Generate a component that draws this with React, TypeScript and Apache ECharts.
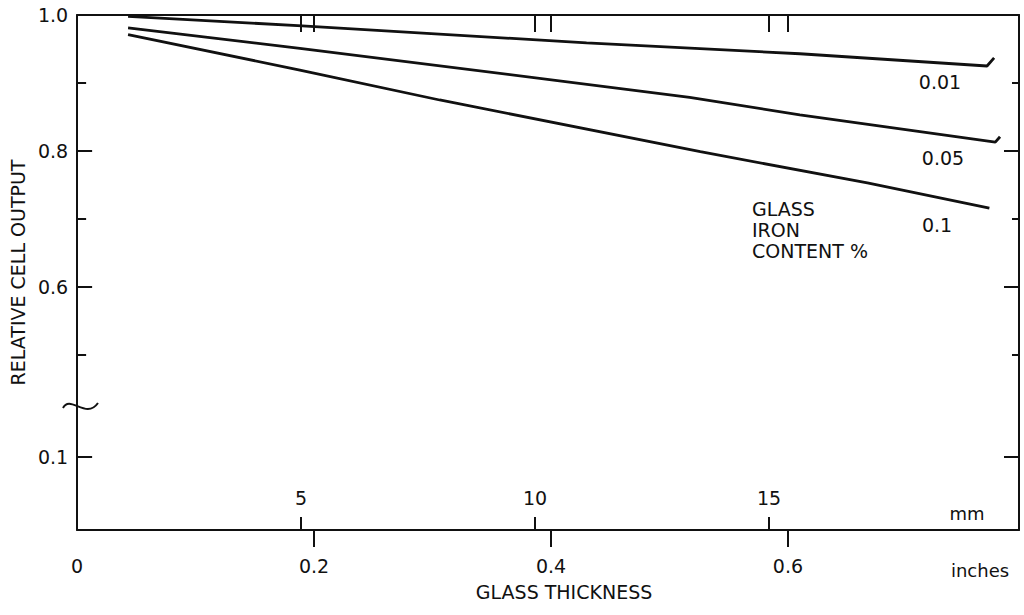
import React, { useEffect, useRef } from "react";
import * as echarts from "echarts";

// ---- data (glass thickness in inches, relative cell output) ----
const fe001: [number, number][] = [
  [0.043, 0.998], [0.19, 0.984], [0.43, 0.959], [0.61, 0.943], [0.768, 0.925], [0.774, 0.937],
];
const fe005: [number, number][] = [
  [0.043, 0.981], [0.188, 0.951], [0.517, 0.879], [0.61, 0.853], [0.775, 0.813], [0.779, 0.821],
];
const fe01: [number, number][] = [
  [0.043, 0.971], [0.188, 0.919], [0.306, 0.875], [0.526, 0.799], [0.667, 0.753], [0.77, 0.716],
];
const seriesNames = ["0.01", "0.05", "0.1"];
const legendTitleLines = ["GLASS", "IRON", "CONTENT %"];

// ---- axes ----
const inchTicks = [0.2, 0.4, 0.6];
const inchLabels = [0, 0.2, 0.4, 0.6];
const mmTicks = [5, 10, 15];
const yLongTicks = [0.8, 0.6, 0.35];
const yShortTicks = [0.9, 0.7, 0.5];
const yLabelValues = [1.0, 0.8, 0.6, 0.35];
const yLabelTexts = ["1.0", "0.8", "0.6", "0.1"]; // 0.1 drawn below the axis break
const X_MIN = 0;
const X_MAX = 0.795;
const MM_MIN = 0.214;
const MM_MAX = 20.34;
const Y_MIN = 0.2426;
const Y_MAX = 1.0;

const FONT = "DejaVu Sans";
const INK = "#111";
const FS = 19;

export default function App() {
  const ref = useRef<HTMLDivElement>(null);

  useEffect(() => {
    document.body.style.margin = "0";
    if (!ref.current) return;
    const chart = echarts.init(ref.current, undefined, { renderer: "svg" });

    const yLabelFmt = (v: number) => {
      const i = yLabelValues.findIndex((x) => Math.abs(x - v) < 1e-6);
      return i >= 0 ? yLabelTexts[i] : "";
    };

    const baseX = {
      type: "value" as const,
      splitLine: { show: false },
      axisLine: { show: false, lineStyle: { color: INK, width: 2 } },
    };
    const baseY = {
      type: "value" as const,
      min: Y_MIN,
      max: Y_MAX,
      splitLine: { show: false },
      axisLine: { show: false, lineStyle: { color: INK, width: 2 } },
      axisLabel: { show: false },
    };

    const lineSeries = (name: string, data: [number, number][]) => ({
      name,
      type: "line" as const,
      data,
      xAxisIndex: 0,
      yAxisIndex: 0,
      symbol: "none",
      smooth: false,
      lineStyle: { color: INK, width: 2.8 },
    });

    const txt = (text: string, x: number, y: number, fontSize = FS, align = "center") => ({
      type: "text" as const,
      x,
      y,
      style: { text, fontSize, fontFamily: FONT, fill: INK, align, verticalAlign: "middle" },
    });

    chart.setOption({
      animation: false,
      backgroundColor: "#fff",
      textStyle: { fontFamily: FONT, color: INK },
      grid: { left: 77, right: 5, top: 15, bottom: 85, containLabel: false },
      xAxis: [
        {
          ...baseX,
          position: "bottom",
          min: X_MIN,
          max: X_MAX,
          axisLine: { show: true, lineStyle: { color: INK, width: 2 } },
          axisTick: {
            show: true,
            inside: false,
            length: 17,
            customValues: inchTicks,
            lineStyle: { color: INK, width: 2 },
          },
          axisLabel: {
            show: true,
            customValues: inchLabels,
            margin: 26,
            fontSize: FS,
            fontFamily: FONT,
            color: INK,
            formatter: (v: number) => (v === 0 ? "0" : v.toFixed(1)),
          },
          name: "GLASS THICKNESS",
          nameLocation: "middle",
          nameGap: 52,
          nameTextStyle: { fontSize: FS, fontFamily: FONT, color: INK, padding: [0, 0, 0, 32] },
        },
        {
          ...baseX,
          position: "bottom",
          min: MM_MIN,
          max: MM_MAX,
          axisTick: {
            show: true,
            inside: true,
            length: 13,
            customValues: mmTicks,
            lineStyle: { color: INK, width: 2 },
          },
          axisLabel: {
            show: true,
            inside: true,
            customValues: mmTicks,
            margin: 23,
            fontSize: FS,
            fontFamily: FONT,
            color: INK,
          },
        },
        {
          ...baseX,
          position: "top",
          min: X_MIN,
          max: X_MAX,
          axisLine: { show: true, lineStyle: { color: INK, width: 2 } },
          axisTick: {
            show: true,
            inside: true,
            length: 17,
            customValues: inchTicks,
            lineStyle: { color: INK, width: 2 },
          },
          axisLabel: { show: false },
        },
        {
          ...baseX,
          position: "top",
          min: MM_MIN,
          max: MM_MAX,
          axisTick: {
            show: true,
            inside: true,
            length: 17,
            customValues: mmTicks,
            lineStyle: { color: INK, width: 2 },
          },
          axisLabel: { show: false },
        },
      ],
      yAxis: [
        {
          ...baseY,
          position: "left",
          axisLine: { show: true, lineStyle: { color: INK, width: 2 } },
          axisTick: {
            show: true,
            inside: true,
            length: 15,
            customValues: yLongTicks,
            lineStyle: { color: INK, width: 2 },
          },
          axisLabel: {
            show: true,
            customValues: yLabelValues,
            margin: 9,
            fontSize: FS,
            fontFamily: FONT,
            color: INK,
            formatter: yLabelFmt,
          },
          name: "RELATIVE CELL OUTPUT",
          nameLocation: "middle",
          nameGap: 47,
          nameTextStyle: { fontSize: FS, fontFamily: FONT, color: INK },
        },
        {
          ...baseY,
          position: "left",
          axisTick: {
            show: true,
            inside: true,
            length: 9,
            customValues: yShortTicks,
            lineStyle: { color: INK, width: 2 },
          },
        },
        {
          ...baseY,
          position: "right",
          axisLine: { show: true, lineStyle: { color: INK, width: 2 } },
          axisTick: {
            show: true,
            inside: true,
            length: 15,
            customValues: yLongTicks,
            lineStyle: { color: INK, width: 2 },
          },
        },
        {
          ...baseY,
          position: "right",
          axisTick: {
            show: true,
            inside: true,
            length: 7,
            customValues: yShortTicks,
            lineStyle: { color: INK, width: 2 },
          },
        },
      ],
      series: [
        lineSeries(seriesNames[0], fe001),
        lineSeries(seriesNames[1], fe005),
        lineSeries(seriesNames[2], fe01),
      ],
      graphic: [
        {
          type: "bezierCurve",
          shape: { x1: 63, y1: 408, cpx1: 70, cpy1: 394, cpx2: 86, cpy2: 420, x2: 98, y2: 403 },
          style: { stroke: INK, lineWidth: 2, fill: "none" },
        },
        txt(seriesNames[0], 940, 82),
        txt(seriesNames[1], 943, 158),
        txt(seriesNames[2], 937, 225),
        txt(legendTitleLines[0], 752, 209, FS, "left"),
        txt(legendTitleLines[1], 752, 230, FS, "left"),
        txt(legendTitleLines[2], 752, 251, FS, "left"),
        txt("mm", 967, 513, 18),
        txt("inches", 980, 570, 18),
      ],
    });

    return () => chart.dispose();
  }, []);

  return <div ref={ref} style={{ width: 1024, height: 615 }} />;
}
